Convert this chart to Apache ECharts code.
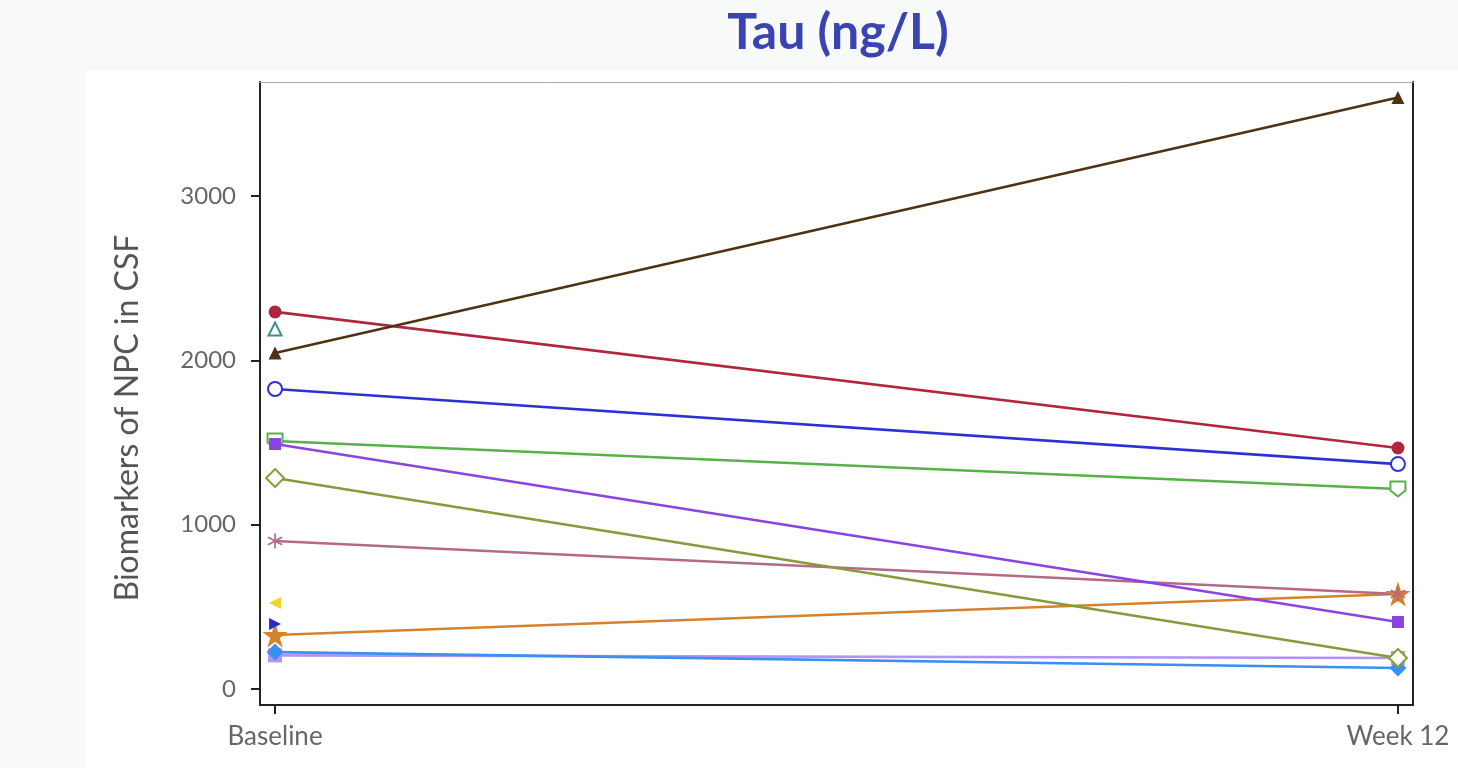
<!DOCTYPE html>
<html><head><meta charset="utf-8">
<script src="https://cdn.jsdelivr.net/npm/echarts@6/dist/echarts.min.js"></script>
<style>html,body{margin:0;padding:0;background:#f8f9f9;}#c{width:1458px;height:768px;}</style>
</head><body><div id="c"></div>
<script>
const categories = ['Baseline', 'Week 12'];
const yTicks = [0, 1000, 2000, 3000];
const yTitle = 'Biomarkers of NPC in CSF';
const brownTri   = [2045, 3600];
const redCircle  = [2295, 1467];
const tealTri    = [2191, null];
const blueCircle = [1826, 1369];
const greenShield= [1509, 1217];
const purpleSq   = [1491, 408];
const oliveDiam  = [1284, 189];
const mauveStar  = [901, 578];
const yellowTri  = [523, null];
const navyTri    = [396, null];
const orangeStar = [329, 578];
const lavender   = [205, 189];
const skyDiam    = [225, 128];

const shield = 'path://M0,0 L10,0 L10,6 L5,10 L0,6 Z';
const asterisk = 'path://M4.5,0 L5.5,0 L5.5,4 L9,2 L9.5,3 L6,5 L9.5,7 L9,8 L5.5,6 L5.5,10 L4.5,10 L4.5,6 L1,8 L0.5,7 L4,5 L0.5,3 L1,2 L4.5,4 Z';
const star = 'path://M5,0 L6.2,3.6 L10,3.6 L6.9,5.9 L8.1,9.5 L5,7.3 L1.9,9.5 L3.1,5.9 L0,3.6 L3.8,3.6 Z';

function pts(arr){ const d=[]; arr.forEach((v,i)=>{ if(v!==null) d.push([i,v]); }); return d; }
function mk(name, arr, color, symbol, size, hollow, lineColor){
  return {
    name, type:'line', data: pts(arr), symbol, symbolSize:size, showSymbol:true,
    lineStyle:{color: lineColor||color, width:2.6},
    itemStyle: hollow ? {color:'#fff', borderColor:color, borderWidth:2} : {color, borderColor:color, borderWidth:0},
    z: 3
  };
}
const series = [
  mk('lavender', lavender, '#b394f2', 'rect', 14, false),
  mk('skyDiam', skyDiam, '#3b8ff0', 'diamond', 17, false),
  mk('orangeStar', orangeStar, '#d4822e', star, 25, false),
  mk('navyTri', navyTri, '#2a2ac4', 'path://M0,0 L10,5 L0,10 Z', 12, false),
  mk('yellowTri', yellowTri, '#f2d42a', 'path://M10,0 L0,5 L10,10 Z', 12, false),
  mk('mauveStar', mauveStar, '#b4688a', asterisk, 15, false),
  mk('oliveDiam', oliveDiam, '#86a034', 'diamond', 18, true, '#889a3c'),
  mk('greenShield', greenShield, '#58b048', shield, 15, true),
  mk('purpleSq', purpleSq, '#8a44e0', 'rect', 12, false),
  mk('blueCircle', blueCircle, '#2c32d2', 'circle', 14, true),
  mk('tealTri', tealTri, '#3c8f8a', 'triangle', 13, true),
  mk('redCircle', redCircle, '#b0263c', 'circle', 13, false),
  mk('brownTri', brownTri, '#4e3214', 'triangle', 13, false)
];

const chart = echarts.init(document.getElementById('c'), null, {renderer:'canvas'});
chart.setOption({
  animation:false,
  backgroundColor:'#f8f9f9',
  graphic:[
    {type:'rect', shape:{x:87,y:70,width:1371,height:698}, style:{fill:'#ffffff'}, z:-10},
    {type:'text', x:128, y:418, rotation:Math.PI/2, style:{text:yTitle, fill:'#555', font:'32px Lato', align:'center', verticalAlign:'middle'}, z:5}
  ],
  title:{text:'Tau (ng/L)', left:833, top:3, textAlign:'center',
    textStyle:{fontFamily:'Lato', fontWeight:'bold', fontSize:50, color:'#3a44b0'}},
  grid:{left:260, right:45, top:82, bottom:63},
  xAxis:[{
    type:'value', min:-0.0134, max:1.0134,
    axisLine:{show:true, onZero:false, lineStyle:{color:'#222', width:2}},
    axisTick:{show:true, customValues:[0,1], length:9, lineStyle:{color:'#222', width:2}},
    axisLabel:{customValues:[0,1], formatter:v=>categories[Math.round(v)], color:'#666', fontSize:26, fontFamily:'Lato', margin:19},
    splitLine:{show:false}
  },{
    type:'value', position:'top', min:-0.0134, max:1.0134,
    axisLine:{show:true, onZero:false, lineStyle:{color:'#aaa', width:1}}, axisTick:{show:false}, axisLabel:{show:false}, splitLine:{show:false}
  }],
  yAxis:[{
    type:'value', min:-97, max:3694,
    axisLine:{show:true, onZero:false, lineStyle:{color:'#222', width:2}},
    axisTick:{show:true, customValues:yTicks, length:9, lineStyle:{color:'#222', width:2}},
    axisLabel:{customValues:yTicks, formatter:v=>String(Math.round(v)), color:'#666', fontSize:24, fontFamily:'Lato', margin:24},
    splitLine:{show:false}
  },{
    type:'value', position:'right', min:-97, max:3694,
    axisLine:{show:true, onZero:false, lineStyle:{color:'#222', width:2}}, axisTick:{show:false}, axisLabel:{show:false}, splitLine:{show:false}
  }],
  series
});
</script></body></html>
